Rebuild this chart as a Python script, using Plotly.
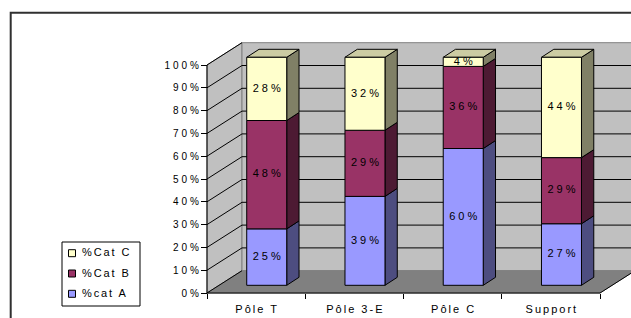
import plotly.graph_objects as go

# ---------------- data ----------------
categories = ["Pôle T", "Pôle 3-E", "Pôle C", "Support"]
series_names = ["%cat A", "%Cat B", "%Cat C"]
cat_a = [25, 39, 60, 27]
cat_b = [48, 29, 36, 29]
cat_c = [28, 32, 4, 44]
y_ticks = [0, 10, 20, 30, 40, 50, 60, 70, 80, 90, 100]
y_tick_labels = ["0%", "10%", "20%", "30%", "40%", "50%", "60%", "70%", "80%", "90%", "100%"]

series_values = [cat_a, cat_b, cat_c]
front_colors = ["#9999FF", "#993366", "#FFFFCC"]
side_colors = ["#4D4D80", "#4D1A33", "#808066"]
top_colors = ["#C2C2FF", "#7A2952", "#CCCCA3"]

# ---------------- geometry (pixels -> axis units) ----------------
FIG_W, FIG_H = 631, 318
PLOT_L, PLOT_R, PLOT_T, PLOT_B = 190, 631, 30, 300
AX_X, AX_Y = 207, 293          # front-left corner of the floor
CAT_PX = 98.25                 # pixels per category
PCT_PX = 2.28                  # pixels per percent

x_range = [-0.5 - (AX_X - PLOT_L) / CAT_PX, -0.5 + (PLOT_R - AX_X) / CAT_PX]
y_range = [-(PLOT_B - AX_Y) / PCT_PX, (AX_Y - PLOT_T) / PCT_PX]

WX, WY = 35 / CAT_PX, 22.3 / PCT_PX      # wall depth offset
BX, BY = 10.6 / CAT_PX, 7.7 / PCT_PX     # bar front-face offset
BW = 40 / CAT_PX                          # bar width
DX, DY = 12.3 / CAT_PX, 8 / PCT_PX       # bar depth offset

n = len(categories)
x_left, x_right = -0.5, n - 0.5
x_far = x_right + WX

totals = [sum(s[i] for s in series_values) for i in range(n)]
heights = [[s[i] / totals[i] * 100 for i in range(n)] for s in series_values]


def px_to_paper(px, py):
    return ((px - PLOT_L) / (PLOT_R - PLOT_L), (PLOT_B - py) / (PLOT_B - PLOT_T))


def poly(pts):
    return "M " + " L ".join(f"{x},{y}" for x, y in pts) + " Z"


shapes = []
annotations = []
# outer chart border
bx0, by0 = px_to_paper(10.7, 12.7)
bx1, by1 = px_to_paper(700, 400)
shapes.append(dict(type="rect", xref="paper", yref="paper", x0=bx0, y0=by1, x1=bx1, y1=by0,
                   line=dict(color="#303030", width=2), fillcolor="rgba(0,0,0,0)", layer="below"))

# walls and floor
shapes.append(dict(type="path", xref="x", yref="y", layer="below",
                   path=poly([(x_left, 0), (x_left + WX, WY), (x_left + WX, 100 + WY), (x_left, 100)]),
                   fillcolor="#C0C0C0", line=dict(color="#808080", width=1)))
shapes.append(dict(type="path", xref="x", yref="y", layer="below",
                   path=poly([(x_left + WX, WY), (x_far + 1, WY), (x_far + 1, 100 + WY), (x_left + WX, 100 + WY)]),
                   fillcolor="#C0C0C0", line=dict(color="#808080", width=1)))
shapes.append(dict(type="path", xref="x", yref="y", layer="below",
                   path=poly([(x_left, 0), (x_right, 0), (x_far, WY), (x_left + WX, WY)]),
                   fillcolor="#808080", line=dict(color="#808080", width=1)))

# gridlines
for v in y_ticks:
    shapes.append(dict(type="line", xref="x", yref="y", layer="below",
                       x0=x_left, y0=v, x1=x_left + WX, y1=v + WY,
                       line=dict(color="#000000", width=1)))
    if 0 < v < 100:
        shapes.append(dict(type="line", xref="x", yref="y", layer="below",
                           x0=x_left + WX, y0=v + WY, x1=x_far + 1, y1=v + WY,
                           line=dict(color="#000000", width=1)))

# front axis lines
shapes.append(dict(type="line", xref="x", yref="y", layer="below",
                   x0=x_left, y0=0, x1=x_left, y1=100, line=dict(color="#000000", width=1)))
shapes.append(dict(type="line", xref="x", yref="y", layer="below",
                   x0=x_left, y0=0, x1=x_right, y1=0, line=dict(color="#000000", width=1)))
shapes.append(dict(type="line", xref="x", yref="y", layer="below",
                   x0=x_right, y0=0, x1=x_far, y1=WY, line=dict(color="#000000", width=1)))

# bar side and top faces
for s, hs in enumerate(heights):
    for i in range(n):
        base = BY + sum(heights[k][i] for k in range(s))
        top = base + hs[i]
        xr_ = i + BX + BW / 2
        xl_ = i + BX - BW / 2
        shapes.append(dict(type="path", xref="x", yref="y", layer="below",
                           path=poly([(xr_, base), (xr_ + DX, base + DY), (xr_ + DX, top + DY), (xr_, top)]),
                           fillcolor=side_colors[s], line=dict(color="#000000", width=1)))
        if s == len(heights) - 1:
            shapes.append(dict(type="path", xref="x", yref="y", layer="below",
                               path=poly([(xl_, top), (xl_ + DX, top + DY), (xr_ + DX, top + DY), (xr_, top)]),
                               fillcolor=top_colors[s], line=dict(color="#000000", width=1)))

FONT = "Liberation Sans, Arial, sans-serif"

# legend (drawn as a boxed key: C, B, A from top to bottom)
lb0 = px_to_paper(62, 242)
lb1 = px_to_paper(140, 306)
shapes.append(dict(type="rect", xref="paper", yref="paper", x0=lb0[0], y0=lb1[1], x1=lb1[0], y1=lb0[1],
                   fillcolor="#FFFFFF", line=dict(color="#000000", width=1), layer="above"))
for row, s in enumerate(reversed(range(len(series_names)))):
    cy = 253.2 + row * 20.3
    s0 = px_to_paper(68.5, cy - 3.5)
    s1 = px_to_paper(75.5, cy + 3.5)
    shapes.append(dict(type="rect", xref="paper", yref="paper", x0=s0[0], y0=s1[1], x1=s1[0], y1=s0[1],
                       fillcolor=front_colors[s], line=dict(color="#000000", width=1), layer="above"))
    tx, ty = px_to_paper(80, cy - 1)
    annotations.append(dict(xref="paper", yref="paper", x=tx, y=ty, xanchor="left", yanchor="middle",
                            text=series_names[s], showarrow=False, align="left",
                            font=dict(family=FONT, size=11, color="#000000")))

fig = go.Figure()

for s, hs in enumerate(heights):
    bases = [BY + sum(heights[k][i] for k in range(s)) for i in range(n)]
    fig.add_trace(go.Bar(
        x=[i + BX for i in range(n)], y=hs, base=bases, width=BW, name=series_names[s],
        marker=dict(color=front_colors[s], line=dict(color="#000000", width=1)),
        showlegend=False, hoverinfo="skip"))

for s, hs in enumerate(heights):
    centers = [BY + sum(heights[k][i] for k in range(s)) + hs[i] / 2 for i in range(n)]
    fig.add_trace(go.Scatter(
        x=[i + BX for i in range(n)], y=centers, mode="text",
        text=[f"{v}%" for v in series_values[s]],
        textfont=dict(family=FONT, size=11, color="#000000"),
        showlegend=False, hoverinfo="skip", cliponaxis=False))

fig.update_layout(
    width=FIG_W, height=FIG_H,
    margin=dict(l=PLOT_L, r=FIG_W - PLOT_R, t=PLOT_T, b=FIG_H - PLOT_B, pad=0, autoexpand=False),
    paper_bgcolor="#FFFFFF", plot_bgcolor="#FFFFFF",
    barmode="overlay",
    shapes=shapes,
    annotations=annotations,
    font=dict(family=FONT, size=10, color="#000000"),
    showlegend=False,
    xaxis=dict(range=x_range, anchor="free", position=(PLOT_B - AX_Y) / (PLOT_B - PLOT_T),
               tickmode="array", tickvals=list(range(n)), ticktext=categories,
               ticks="", showline=False, showgrid=False, zeroline=False,
               ticklabelstandoff=8,
               tickfont=dict(family=FONT, size=11, color="#000000"),
               minor=dict(tickmode="array", tickvals=[i - 0.5 for i in range(n + 1)],
                          ticks="outside", ticklen=5, tickcolor="#000000", showgrid=False),
               fixedrange=True),
    yaxis=dict(range=y_range, anchor="free", position=(AX_X - PLOT_L) / (PLOT_R - PLOT_L),
               tickmode="array", tickvals=y_ticks, ticktext=y_tick_labels,
               ticks="outside", ticklen=6, tickcolor="#000000",
               showline=False, showgrid=False, zeroline=False,
               tickfont=dict(family=FONT, size=10, color="#000000"),
               fixedrange=True),
)

# page without default body margin; widen the letter spacing of the texts,
# as in the original rendering
post_script = """
document.body.style.margin = '0';
document.body.style.padding = '0';
var gd = document.getElementById('{plot_id}');
function sp(sel, s, k) {
  gd.querySelectorAll(sel).forEach(function (t) {
    t.style.letterSpacing = s + 'px';
    if (k) { t.setAttribute('dx', s * k); }
  });
}
sp('.ytick text', 3, 1);
sp('.xtick text', 2, 0.5);
sp('.textpoint text', 3, 0.5);
sp('.annotation-text', 1.9, 0);
"""

fig.write_html("out.html", post_script=post_script, config={"displayModeBar": False})
